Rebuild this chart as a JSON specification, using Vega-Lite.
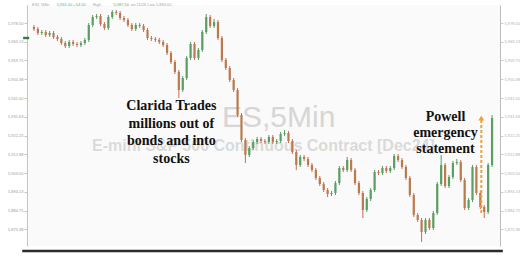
{
  "$schema": "https://vega.github.io/schema/vega-lite/v6.json",
  "width": 473,
  "height": 241,
  "autosize": {"type": "none"},
  "padding": {"left": 27, "top": 5, "right": 27, "bottom": 19},
  "background": "#ffffff",
  "config": {"view": {"stroke": null, "fill": "#fafafa"}, "font": "Liberation Sans"},
  "datasets": {
    "candles": [
      {"t":0,"o":5976.5,"h":5977.5,"l":5974.5,"c":5975.5},
      {"t":1,"o":5975.5,"h":5976.5,"l":5972.5,"c":5973.5},
      {"t":2,"o":5973.5,"h":5975,"l":5972.5,"c":5974},
      {"t":3,"o":5974,"h":5975,"l":5971.5,"c":5972.5},
      {"t":4,"o":5972.5,"h":5974.5,"l":5971.5,"c":5973.5},
      {"t":5,"o":5973.5,"h":5974.5,"l":5970.5,"c":5971.5},
      {"t":6,"o":5971.5,"h":5972.5,"l":5969.5,"c":5970.5},
      {"t":7,"o":5970.5,"h":5971.5,"l":5967.5,"c":5968.5},
      {"t":8,"o":5968.5,"h":5969.5,"l":5966,"c":5967},
      {"t":9,"o":5967,"h":5970,"l":5966,"c":5969},
      {"t":10,"o":5969,"h":5970,"l":5967,"c":5968},
      {"t":11,"o":5968,"h":5969,"l":5966.5,"c":5967.5},
      {"t":12,"o":5967.5,"h":5969.5,"l":5966.5,"c":5968.5},
      {"t":13,"o":5968.5,"h":5971,"l":5967.5,"c":5970},
      {"t":14,"o":5970,"h":5978.5,"l":5969,"c":5977.5},
      {"t":15,"o":5977.5,"h":5982.5,"l":5976.5,"c":5981.5},
      {"t":16,"o":5981.5,"h":5983,"l":5980.5,"c":5982},
      {"t":17,"o":5982,"h":5983,"l":5977,"c":5978},
      {"t":18,"o":5978,"h":5979,"l":5975,"c":5976},
      {"t":19,"o":5976,"h":5982.5,"l":5975,"c":5981.5},
      {"t":20,"o":5981.5,"h":5985,"l":5980.5,"c":5984},
      {"t":21,"o":5984,"h":5985,"l":5982.5,"c":5983.5},
      {"t":22,"o":5983.5,"h":5984.5,"l":5980,"c":5981},
      {"t":23,"o":5981,"h":5982,"l":5979,"c":5980},
      {"t":24,"o":5980,"h":5981,"l":5976.5,"c":5977.5},
      {"t":25,"o":5977.5,"h":5978.5,"l":5974.5,"c":5975.5},
      {"t":26,"o":5975.5,"h":5978.5,"l":5974.5,"c":5977.5},
      {"t":27,"o":5977.5,"h":5978.5,"l":5976,"c":5977},
      {"t":28,"o":5977,"h":5978,"l":5974,"c":5975},
      {"t":29,"o":5975,"h":5976,"l":5970,"c":5971},
      {"t":30,"o":5971,"h":5972,"l":5969.5,"c":5970.5},
      {"t":31,"o":5970.5,"h":5971.5,"l":5969,"c":5970},
      {"t":32,"o":5970,"h":5971,"l":5968,"c":5969},
      {"t":33,"o":5969,"h":5970,"l":5966.5,"c":5967.5},
      {"t":34,"o":5967.5,"h":5968.5,"l":5962.5,"c":5963.5},
      {"t":35,"o":5963.5,"h":5964.5,"l":5958,"c":5959},
      {"t":36,"o":5959,"h":5960,"l":5953,"c":5954},
      {"t":37,"o":5954,"h":5955,"l":5941,"c":5945},
      {"t":38,"o":5945,"h":5952,"l":5944,"c":5951},
      {"t":39,"o":5951,"h":5962,"l":5950,"c":5961},
      {"t":40,"o":5961,"h":5969,"l":5960,"c":5968},
      {"t":41,"o":5968,"h":5969,"l":5960,"c":5961},
      {"t":42,"o":5961,"h":5966,"l":5960,"c":5965},
      {"t":43,"o":5965,"h":5975,"l":5964,"c":5974},
      {"t":44,"o":5974,"h":5983,"l":5973,"c":5981.5},
      {"t":45,"o":5981.5,"h":5982.5,"l":5976,"c":5977},
      {"t":46,"o":5977,"h":5980.5,"l":5976,"c":5979},
      {"t":47,"o":5979,"h":5980,"l":5970,"c":5971},
      {"t":48,"o":5971,"h":5972,"l":5959,"c":5960},
      {"t":49,"o":5960,"h":5961,"l":5955,"c":5956},
      {"t":50,"o":5956,"h":5957,"l":5949,"c":5950},
      {"t":51,"o":5950,"h":5951,"l":5944,"c":5945},
      {"t":52,"o":5945,"h":5946,"l":5931.5,"c":5932.5},
      {"t":53,"o":5932.5,"h":5933.5,"l":5919,"c":5920},
      {"t":54,"o":5920,"h":5921,"l":5908.5,"c":5912.5},
      {"t":55,"o":5912.5,"h":5917,"l":5911.5,"c":5916},
      {"t":56,"o":5916,"h":5920,"l":5915,"c":5919},
      {"t":57,"o":5919,"h":5921.5,"l":5918,"c":5920.5},
      {"t":58,"o":5920.5,"h":5921.5,"l":5918.5,"c":5919.5},
      {"t":59,"o":5919.5,"h":5920.5,"l":5918,"c":5919},
      {"t":60,"o":5919,"h":5922.5,"l":5918,"c":5921.5},
      {"t":61,"o":5921.5,"h":5922.5,"l":5918,"c":5919},
      {"t":62,"o":5919,"h":5920.5,"l":5918,"c":5919.5},
      {"t":63,"o":5919.5,"h":5924,"l":5918.5,"c":5923},
      {"t":64,"o":5923,"h":5925,"l":5922,"c":5923.5},
      {"t":65,"o":5923.5,"h":5924.5,"l":5918.5,"c":5919.5},
      {"t":66,"o":5919.5,"h":5920.5,"l":5913,"c":5914},
      {"t":67,"o":5914,"h":5915,"l":5905,"c":5907.5},
      {"t":68,"o":5907.5,"h":5912.5,"l":5906.5,"c":5911.5},
      {"t":69,"o":5911.5,"h":5912.5,"l":5909.5,"c":5910.5},
      {"t":70,"o":5910.5,"h":5911.5,"l":5906.5,"c":5907.5},
      {"t":71,"o":5907.5,"h":5908.5,"l":5904,"c":5905},
      {"t":72,"o":5905,"h":5906,"l":5900,"c":5901},
      {"t":73,"o":5901,"h":5902,"l":5897,"c":5898},
      {"t":74,"o":5898,"h":5899,"l":5894,"c":5895},
      {"t":75,"o":5895,"h":5896,"l":5891.5,"c":5893},
      {"t":76,"o":5893,"h":5894.5,"l":5892,"c":5893.5},
      {"t":77,"o":5893.5,"h":5899.5,"l":5892.5,"c":5898.5},
      {"t":78,"o":5898.5,"h":5907,"l":5897.5,"c":5906},
      {"t":79,"o":5906,"h":5907,"l":5904,"c":5905},
      {"t":80,"o":5905,"h":5911.5,"l":5904,"c":5910},
      {"t":81,"o":5910,"h":5911,"l":5904,"c":5905},
      {"t":82,"o":5905,"h":5906,"l":5897.5,"c":5898.5},
      {"t":83,"o":5898.5,"h":5899.5,"l":5892.5,"c":5893.5},
      {"t":84,"o":5893.5,"h":5894.5,"l":5881,"c":5885},
      {"t":85,"o":5885,"h":5891.5,"l":5884,"c":5890.5},
      {"t":86,"o":5890.5,"h":5896,"l":5889.5,"c":5895},
      {"t":87,"o":5895,"h":5905,"l":5894,"c":5904},
      {"t":88,"o":5904,"h":5905,"l":5902.5,"c":5903.5},
      {"t":89,"o":5903.5,"h":5907,"l":5902.5,"c":5906},
      {"t":90,"o":5906,"h":5907,"l":5903.5,"c":5904.5},
      {"t":91,"o":5904.5,"h":5907,"l":5903.5,"c":5906},
      {"t":92,"o":5906,"h":5913,"l":5905,"c":5912},
      {"t":93,"o":5912,"h":5913,"l":5909,"c":5910},
      {"t":94,"o":5910,"h":5911,"l":5905.5,"c":5906.5},
      {"t":95,"o":5906.5,"h":5907.5,"l":5900,"c":5901},
      {"t":96,"o":5901,"h":5902,"l":5891.5,"c":5892.5},
      {"t":97,"o":5892.5,"h":5893.5,"l":5881.5,"c":5882.5},
      {"t":98,"o":5882.5,"h":5883.5,"l":5879,"c":5880},
      {"t":99,"o":5880,"h":5881,"l":5869,"c":5874},
      {"t":100,"o":5874,"h":5881,"l":5873,"c":5880},
      {"t":101,"o":5880,"h":5881,"l":5875,"c":5876},
      {"t":102,"o":5876,"h":5884.5,"l":5875,"c":5883.5},
      {"t":103,"o":5883.5,"h":5899,"l":5882.5,"c":5898},
      {"t":104,"o":5898,"h":5912.5,"l":5897,"c":5907.5},
      {"t":105,"o":5907.5,"h":5908.5,"l":5896,"c":5897},
      {"t":106,"o":5897,"h":5902.5,"l":5896,"c":5901.5},
      {"t":107,"o":5901.5,"h":5909.5,"l":5900.5,"c":5908.5},
      {"t":108,"o":5908.5,"h":5910.5,"l":5907.5,"c":5909},
      {"t":109,"o":5909,"h":5910,"l":5899,"c":5900},
      {"t":110,"o":5900,"h":5901,"l":5885,"c":5886},
      {"t":111,"o":5886,"h":5891,"l":5885,"c":5890},
      {"t":112,"o":5890,"h":5907.5,"l":5889,"c":5906.5},
      {"t":113,"o":5906.5,"h":5907.5,"l":5892.5,"c":5893.5},
      {"t":114,"o":5893.5,"h":5894.5,"l":5885.5,"c":5886.5},
      {"t":115,"o":5886.5,"h":5887.5,"l":5881,"c":5884},
      {"t":116,"o":5884,"h":5908.5,"l":5883,"c":5907.5},
      {"t":117,"o":5907.5,"h":5932.5,"l":5906.5,"c":5931}
    ],
    "topGray": [
      {"t": -0.5, "txt": "ES1 5Min"},
      {"t": 15, "txt": "High"},
      {"t": 24.8, "txt": "on 11/26 Low 5,869.00"}
    ],
    "topGreen": [
      {"t": 5.8, "txt": "5,931.00 +54.50"},
      {"t": 20.3, "txt": "5,987.50"}
    ]
  },
  "data": {"name": "candles"},
  "layer": [
    {
      "data": {"values": [{}]},
      "mark": {"type": "text", "text": "ES,5Min", "fontSize": 30, "font": "Liberation Sans", "color": "#d6d6d6", "align": "center", "baseline": "middle"},
      "encoding": {
        "x": {"datum": 62.5, "type": "quantitative", "scale": {"domain": [-0.5, 117.75], "nice": false, "zero": false}, "axis": null},
        "y": {"datum": 5931, "type": "quantitative", "scale": {"domain": [5867, 5987.5], "nice": false, "zero": false}, "axis": null}
      }
    },
    {
      "data": {"values": [{}]},
      "mark": {"type": "text", "text": "E-mini S&P 500 Continuous Contract [Dec24]", "fontSize": 16, "fontWeight": "bold", "font": "Liberation Sans", "color": "#dadada", "align": "center", "baseline": "middle"},
      "encoding": {
        "x": {"datum": 58.6, "type": "quantitative", "axis": null},
        "y": {"datum": 5917, "type": "quantitative", "axis": null}
      }
    },
    {
      "mark": {"type": "rule", "strokeWidth": 1},
      "encoding": {
        "x": {
          "field": "t", "type": "quantitative",
          "axis": {
            "orient": "bottom", "title": null, "domain": false, "ticks": false,
            "grid": true, "gridColor": "#efefef", "gridWidth": 1,
            "labelFontSize": 4, "labelColor": "#9a9a9a", "labelPadding": 1,
            "values": [2.25, 4.92, 7.58, 10.25, 12.92, 15.58, 18.25, 20.92, 23.58, 26.25, 28.92, 31.58, 34.25, 36.92, 39.58, 42.25, 44.92, 47.58, 50.25, 52.92, 55.58, 58.25, 60.92, 63.58, 66.25, 68.92, 71.58, 74.25, 76.92, 79.58, 82.25, 84.92, 87.58, 90.25, 92.92, 95.58, 98.25, 100.92, 103.58, 106.25, 108.92, 111.58, 114.25],
            "labelExpr": "timeFormat(datetime(2024, 10, 26, round((datum.value - 2.25) * 0.375) + 9, 0), '%H:%M')"
          }
        },
        "y": {
          "field": "l", "type": "quantitative",
          "axis": {
            "orient": "left", "title": null, "grid": false,
            "values": [5978.5, 5969.125, 5959.75, 5950.375, 5941, 5931.625, 5922.25, 5912.875, 5903.5, 5894.125, 5884.75, 5875.375],
            "format": ",.2f", "labelFontSize": 4, "labelColor": "#9a9a9a", "labelPadding": 1,
            "tickSize": 3, "tickColor": "#c4c4c4", "domainColor": "#c4c4c4"
          }
        },
        "y2": {"field": "h"},
        "color": {"condition": {"test": "datum.c >= datum.o", "value": "#5a9e62"}, "value": "#cc6a58"}
      }
    },
    {
      "mark": {"type": "bar", "width": 2.2},
      "encoding": {
        "x": {"field": "t", "type": "quantitative", "axis": null},
        "y": {"field": "o", "type": "quantitative", "axis": null},
        "y2": {"field": "c"},
        "color": {"condition": {"test": "datum.c >= datum.o", "value": "#5a9e62"}, "value": "#b97a4c"}
      }
    },
    {
      "mark": {"type": "rule", "opacity": 0},
      "encoding": {
        "x": {"field": "t", "type": "quantitative", "axis": null},
        "y": {
          "field": "c", "type": "quantitative",
          "axis": {
            "orient": "right", "title": null, "grid": false,
            "values": [5978.5, 5969.125, 5959.75, 5950.375, 5941, 5931.625, 5922.25, 5912.875, 5903.5, 5894.125, 5884.75, 5875.375],
            "format": ",.2f", "labelFontSize": 4, "labelColor": "#b0b0b0", "labelPadding": 1,
            "tickSize": 3, "tickColor": "#cccccc", "domainColor": "#bdbdbd"
          }
        }
      }
    },
    {
      "data": {"values": [{}]},
      "mark": {"type": "rule", "color": "#f0a238", "strokeWidth": 2, "strokeDash": [3, 2]},
      "encoding": {
        "x": {"datum": 114.25, "type": "quantitative", "axis": null},
        "y": {"datum": 5883.5, "type": "quantitative", "axis": null},
        "y2": {"datum": 5930}
      }
    },
    {
      "data": {"values": [{}]},
      "mark": {"type": "point", "shape": "triangle-up", "filled": true, "size": 35, "color": "#f0a238", "opacity": 1},
      "encoding": {
        "x": {"datum": 114.25, "type": "quantitative", "axis": null},
        "y": {"datum": 5931, "type": "quantitative", "axis": null}
      }
    },
    {
      "data": {"values": [{}]},
      "mark": {"type": "text", "text": ["Clarida Trades", "millions out of", "bonds and into", "stocks"], "font": "Liberation Serif", "fontWeight": "bold", "fontSize": 14, "lineHeight": 17.5, "align": "center", "baseline": "middle", "color": "#111111"},
      "encoding": {
        "x": {"datum": 35.1, "type": "quantitative", "axis": null},
        "y": {"datum": 5937, "type": "quantitative", "axis": null}
      }
    },
    {
      "data": {"values": [{}]},
      "mark": {"type": "text", "text": ["Powell", "emergency", "statement"], "font": "Liberation Serif", "fontWeight": "bold", "fontSize": 14, "lineHeight": 16, "align": "center", "baseline": "middle", "color": "#111111"},
      "encoding": {
        "x": {"datum": 105.1, "type": "quantitative", "axis": null},
        "y": {"datum": 5931.5, "type": "quantitative", "axis": null}
      }
    },
    {
      "data": {"values": [{}]},
      "mark": {"type": "point", "shape": "M-1,-0.4H1V0.4H-1Z", "filled": true, "size": 36, "color": "#2f7d3b", "opacity": 1},
      "encoding": {
        "x": {"datum": -2, "type": "quantitative", "axis": null},
        "y": {"datum": 5971, "type": "quantitative", "axis": null}
      }
    },
    {
      "data": {"values": [{}]},
      "mark": {"type": "rule", "color": "#2b2b2b", "strokeWidth": 2.5},
      "encoding": {
        "x": {"datum": -3, "type": "quantitative", "axis": null},
        "x2": {"datum": 119.75},
        "y": {"datum": 5864.5, "type": "quantitative", "axis": null}
      }
    },
    {
      "data": {"name": "topGray"},
      "mark": {"type": "text", "fontSize": 4, "color": "#a8a8a8", "align": "left", "baseline": "middle"},
      "encoding": {
        "x": {"field": "t", "type": "quantitative", "axis": null},
        "y": {"datum": 5987.5, "type": "quantitative", "axis": null},
        "text": {"field": "txt"}
      }
    },
    {
      "data": {"name": "topGreen"},
      "mark": {"type": "text", "fontSize": 4, "color": "#5cb85c", "align": "left", "baseline": "middle"},
      "encoding": {
        "x": {"field": "t", "type": "quantitative", "axis": null},
        "y": {"datum": 5987.5, "type": "quantitative", "axis": null},
        "text": {"field": "txt"}
      }
    }
  ],
  "resolve": {"axis": {"y": "independent"}}
}
